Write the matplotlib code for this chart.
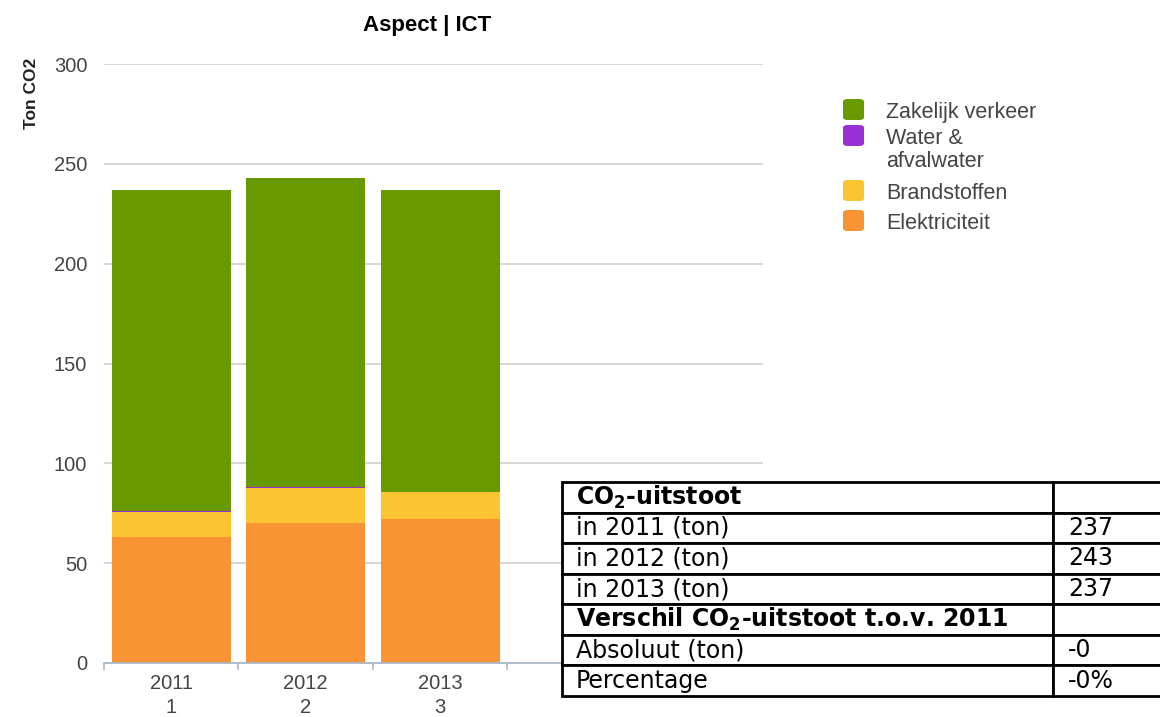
import matplotlib
matplotlib.use("Agg")
import matplotlib.pyplot as plt
from matplotlib.patches import FancyBboxPatch

# chart data (ton CO2 per year, stacked)
years = ['2011', '2012', '2013']
year_index = ['1', '2', '3']
elektriciteit = [63, 70, 72]
brandstoffen = [12.5, 17.5, 13.5]
water = [0.5, 0.5, 0.0]
zakelijk = [161, 155, 151.5]
series = [elektriciteit, brandstoffen, water, zakelijk]
series_names = ['Elektriciteit', 'Brandstoffen', 'Water &\nafvalwater', 'Zakelijk verkeer']
colors = ['#f89434', '#fcc430', '#9b2fd6', '#689a00']

# table next to the chart
table_labels = [r'CO$_{\mathbf{2}}$-uitstoot', 'in 2011 (ton)', 'in 2012 (ton)', 'in 2013 (ton)',
                r'Verschil CO$_{\mathbf{2}}$-uitstoot t.o.v. 2011', 'Absoluut (ton)', 'Percentage']
table_values = ['', '237', '243', '237', '', '-0', '-0%']
bold_rows = [0, 4]

plt.rcParams['font.family'] = ['Liberation Sans', 'DejaVu Sans']

W, H = 1160, 717
fig = plt.figure(figsize=(W / 100, H / 100), dpi=100)


def fx(px):
    return px / W


def fy(py):
    return 1 - py / H


ax = fig.add_axes([fx(104), fy(663), 659 / W, 599 / H])
x = list(range(len(years)))
bottom = [0] * len(years)
for vals, c in zip(series, colors):
    ax.bar(x, vals, width=0.885, bottom=bottom, color=c, zorder=2)
    bottom = [b + v for b, v in zip(bottom, vals)]

ax.set_xlim(-0.5, 4.4)
ax.set_ylim(0, 300)
ax.set_yticks(range(0, 301, 50))
ax.grid(axis='y', color='#d0d0d0', lw=1.2, zorder=0)
ax.set_axisbelow(True)
for s in ['top', 'right', 'left']:
    ax.spines[s].set_visible(False)
ax.spines['bottom'].set_color('#a9b8c6')
ax.spines['bottom'].set_linewidth(1.3)

ax.set_xticks(x, [f'{y}\n{i}' for y, i in zip(years, year_index)], linespacing=1.35)
ax.set_xticks([-0.5, 0.5, 1.5, 2.5, 3.5], minor=True)
ax.tick_params(axis='x', which='major', length=0, pad=8, labelsize=14.5, labelcolor='#444444')
ax.tick_params(axis='x', which='minor', length=5, width=1.2, color='#a9b8c6')
ax.tick_params(axis='y', length=0, pad=12, labelsize=14.5, labelcolor='#444444')

fig.text(fx(427), fy(26), 'Aspect | ICT', ha='center', va='center', fontsize=16, weight='bold')
fig.text(fx(32), fy(93), 'Ton CO2', rotation=90, ha='center', va='center',
         fontsize=12.5, weight='bold', color='#222222')

# legend, top to bottom
leg_tops = [99, 125, 180, 210]
for top, name, c in zip(leg_tops, series_names[::-1], colors[::-1]):
    fig.add_artist(FancyBboxPatch((fx(843), fy(top + 21)), 21 / W, 21 / H,
                                  boxstyle='round,pad=0,rounding_size=0.004',
                                  transform=fig.transFigure, fc=c, ec='none'))
    fig.text(fx(886), fy(top + 3), name, ha='left', va='top', fontsize=15.5,
             color='#444444', linespacing=1.15)

# table
tax = fig.add_axes([fx(562), fy(696), (1170 - 562) / W, (696 - 482) / H])
tax.axis('off')
tab = tax.table(cellText=[[l, v] for l, v in zip(table_labels, table_values)],
                colWidths=[491 / 608, 117 / 608], bbox=[0, 0, 1, 1], cellLoc='left')
tab.auto_set_font_size(False)
tab.set_fontsize(17)
for (r, c), cell in tab.get_celld().items():
    cell.set_linewidth(2)
    cell.set_edgecolor('black')
    cell.PAD = 14 / 491 if c == 0 else 15 / 117
    cell.get_text().set_fontfamily('DejaVu Sans')
    if r in bold_rows:
        cell.get_text().set_fontweight('bold')

fig.savefig('out.png', dpi=100)
